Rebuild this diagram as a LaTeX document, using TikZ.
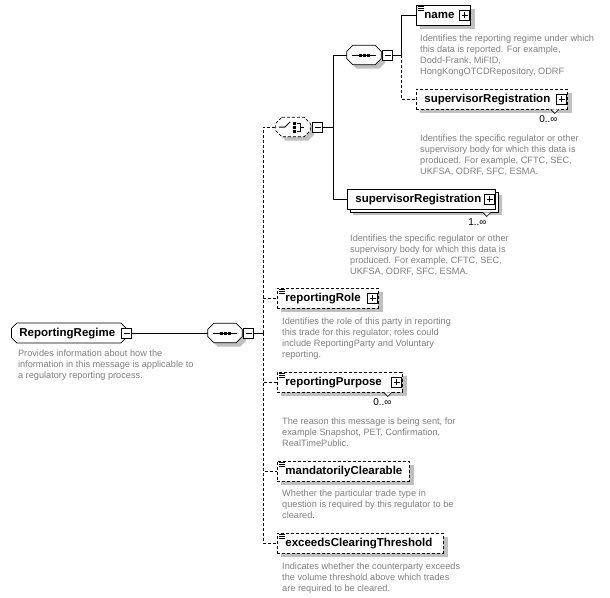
\documentclass[tikz,border=0pt]{standalone}
\usepackage{fontspec}
\setmainfont{Liberation Sans}
\usetikzlibrary{shadows, positioning, backgrounds, shapes.misc}
\definecolor{doctext}{RGB}{128,128,128}
\definecolor{shadowgray}{RGB}{192,192,192}

\begin{document}
\begin{tikzpicture}[
    x=1pt, y=-1pt,
    basebox/.style={rectangle, draw=black, fill=white, line width=0.8pt,
                    minimum height=20pt, inner xsep=8pt, inner ysep=0pt,
                    text width=#1, align=left, anchor=west,
                    text height=8.5pt, text depth=2.5pt,
                    font=\fontsize{11.5}{13}\selectfont\bfseries},
    elem/.style={basebox=#1},
    optelem/.style={basebox=#1, dash pattern=on 3pt off 2pt},
    manyelem/.style={basebox=#1,
                     copy shadow={shadow xshift=3pt, shadow yshift=-3pt}},
    rootbox/.style={basebox=#1, inner xsep=6pt, chamfered rectangle,
                    chamfered rectangle xsep=2pt},
    compo/.style={rectangle, minimum width=34pt, minimum height=19pt,
                  inner sep=0pt},
    pmbox/.style={rectangle, draw=black, fill=white, line width=1pt,
                  minimum size=10pt, inner sep=0pt},
    minusbox/.style={pmbox, path picture={
        \draw[line width=0.9pt] ([xshift=2pt]path picture bounding box.west)
            -- ([xshift=-2pt]path picture bounding box.east);}},
    plusbox/.style={pmbox, path picture={
        \draw[line width=0.9pt] ([xshift=2pt]path picture bounding box.west)
            -- ([xshift=-2pt]path picture bounding box.east);
        \draw[line width=0.9pt] ([yshift=-2pt]path picture bounding box.north)
            -- ([yshift=2pt]path picture bounding box.south);}},
    doc/.style={align=left, inner sep=0pt, text=doctext,
                font=\fontsize{9.2}{11}\selectfont},
    mult/.style={inner sep=0pt, font=\fontsize{10}{11}\selectfont},
    link/.style={line width=0.8pt},
    optlink/.style={line width=0.8pt, dash pattern=on 3pt off 2pt},
]
\useasboundingbox (0,0) rectangle (610,597);

%% Root element
\node[rootbox=99pt] (root) at (11,333) {ReportingRegime};
\node[minusbox] (rootm) at (root.east) {};
\node[doc, below right=9pt and 4pt of root.south west] (rootdoc)
    {Provides information about how the\\information in this message is applicable to\\a regulatory reporting process.};

%% Compositors
\node[compo] (seq1) at (225,333) {};
\node[minusbox, right=1pt of seq1] (seq1m) {};
\node[compo] (choice) at (293,127) {};
\node[minusbox, right=2pt of choice] (choicem) {};
\node[compo] (seq2) at (364,55) {};
\node[minusbox, right=1pt of seq2] (seq2m) {};

%% Compositor outlines
\foreach \c/\st in {seq1/link, choice/optlink, seq2/link}
  \draw[\st, fill=white] ([xshift=6pt]\c.north west) -- ([xshift=-6pt]\c.north east)
      -- ([yshift=-6pt]\c.north east) -- ([yshift=6pt]\c.south east)
      -- ([xshift=-6pt]\c.south east) -- ([xshift=6pt]\c.south west)
      -- ([yshift=6pt]\c.south west) -- ([yshift=-6pt]\c.north west) -- cycle;

%% Compositor icons
\foreach \s in {seq1, seq2} {
  \draw[line width=1pt] ([xshift=-12pt]\s.center) -- ([xshift=12pt]\s.center);
  \foreach \d in {-4,0,4}
    \fill ([shift={(\d-1.5,-1.5)}]\s.center) rectangle ++(3,3);
}
\draw[line width=1pt] ([xshift=-14pt]choice.center) -- ++(6,0) -- ++(5,-5);
\foreach \d in {-4,0,4}
  \fill ([shift={(0,\d-1.5)}]choice.center) rectangle ++(3,3);
\draw[line width=1pt] ([shift={(4,-4)}]choice.center) -- ++(3,0) -- ++(0,8) -- ++(-3,0);
\draw[line width=1pt] ([shift={(7,0)}]choice.center) -- ++(4,0);

%% Elements of the choice
\node[elem=38pt] (name) at (416,15) {name};
\node[plusbox, left=0.5pt of name.east] (namep) {};
\node[optelem=135pt] (supopt) at (416,99) {supervisorRegistration};
\node[plusbox, left=0.5pt of supopt.east] (supoptp) {};
\node[manyelem=132pt] (supreq) at (347,199) {supervisorRegistration};
\node[plusbox, left=0.5pt of supreq.east] (supreqp) {};

%% Elements of the outer sequence
\node[optelem=85pt]  (role)    at (277,298) {reportingRole};
\node[plusbox, left=0.5pt of role.east] (rolep) {};
\node[optelem=109pt] (purpose) at (277,382) {reportingPurpose};
\node[plusbox, left=0.5pt of purpose.east] (purposep) {};
\node[optelem=116pt] (clear)   at (277,471) {mandatorilyClearable};
\node[optelem=150pt] (exceed)  at (277,543) {exceedsClearingThreshold};

%% Simple content marks
\foreach \e in {name, role, purpose, clear, exceed}
  \foreach \k in {2,4,6}
    \draw[line width=0.6pt] ([shift={(2,\k)}]\e.north west) -- ++(6,0);

%% Shadows
\begin{scope}[on background layer]
  \fill[white] (0,0) rectangle (610,597);
  \foreach \c in {seq1, choice, seq2}
    \fill[shadowgray, transform canvas={shift={(4pt,-4pt)}}]
      ([xshift=6pt]\c.north west) -- ([xshift=-6pt]\c.north east)
      -- ([yshift=-6pt]\c.north east) -- ([yshift=6pt]\c.south east)
      -- ([xshift=-6pt]\c.south east) -- ([xshift=6pt]\c.south west)
      -- ([yshift=6pt]\c.south west) -- ([yshift=-6pt]\c.north west) -- cycle;
  \foreach \e in {name, supopt, role, purpose, clear, exceed}
    \fill[shadowgray] ([shift={(4,4)}]\e.north west) rectangle ([shift={(4,4)}]\e.south east);
  \fill[shadowgray] ([shift={(6,6)}]supreq.north west) rectangle ([shift={(6,6)}]supreq.south east);
\end{scope}

%% Occurrence marks
\draw[line width=0.6pt, fill=white] ([xshift=-17pt]supopt.south east) -- ++(4,4) -- ++(4,-4);
\node[mult, below left=6pt and 10pt of supopt.south east] (supoptmult) {0..∞};
\draw[line width=0.6pt, fill=white] ([shift={(-13pt,-3pt)}]supreq.south east) -- ++(4,4) -- ++(4,-4);
\node[mult, below left=9pt and 9pt of supreq.south east] (supreqmult) {1..∞};
\draw[line width=0.6pt, fill=white] ([xshift=-19pt]purpose.south east) -- ++(4,4) -- ++(4,-4);
\node[mult, below left=6pt and 11pt of purpose.south east] (purposemult) {0..∞};

%% Descriptions
\node[doc, below right=9pt and 4pt of name.south west] (namedoc)
    {Identifies the reporting regime under which\\this data is reported. For example,\\Dodd-Frank, MiFID,\\HongKongOTCDRepository, ODRF};
\node[doc, below right=25pt and 4pt of supopt.south west] (supoptdoc)
    {Identifies the specific regulator or other\\supervisory body for which this data is\\produced. For example, CFTC, SEC,\\UKFSA, ODRF, SFC, ESMA.};
\node[doc, below right=25pt and 3pt of supreq.south west] (supreqdoc)
    {Identifies the specific regulator or other\\supervisory body for which this data is\\produced. For example, CFTC, SEC,\\UKFSA, ODRF, SFC, ESMA.};
\node[doc, below right=9pt and 5pt of role.south west] (roledoc)
    {Identifies the role of this party in reporting\\this trade for this regulator; roles could\\include ReportingParty and Voluntary\\reporting.};
\node[doc, below right=25pt and 5pt of purpose.south west] (purposedoc)
    {The reason this message is being sent, for\\example Snapshot, PET, Confirmation,\\RealTimePublic.};
\node[doc, below right=8pt and 5pt of clear.south west] (cleardoc)
    {Whether the particular trade type in\\question is required by this regulator to be\\cleared.};
\node[doc, below right=9pt and 5pt of exceed.south west] (exceeddoc)
    {Indicates whether the counterparty exceeds\\the volume threshold above which trades\\are required to be cleared.};

%% Connectors
\coordinate[right=9pt of seq1m.east] (t1);
\coordinate[right=10pt of choicem.east] (t2);
\coordinate[right=8pt of seq2m.east] (t3);

\draw[link] (rootm.east) -- (seq1.west);
\draw[link] (seq1m.east) -- (t1);
\draw[optlink] (t1) |- (choice.west);
\draw[optlink] (t1) |- (role.west);
\draw[optlink] (t1) |- (purpose.west);
\draw[optlink] (t1) |- (clear.west);
\draw[optlink] (t1) |- (exceed.west);

\draw[link] (choicem.east) -- (t2);
\draw[link] (t2) |- (seq2.west);
\draw[link] (t2) |- (supreq.west);

\draw[link] (seq2m.east) -- (t3);
\draw[link] (t3) |- (name.west);
\draw[optlink] (t3) |- (supopt.west);

\end{tikzpicture}
\end{document}
